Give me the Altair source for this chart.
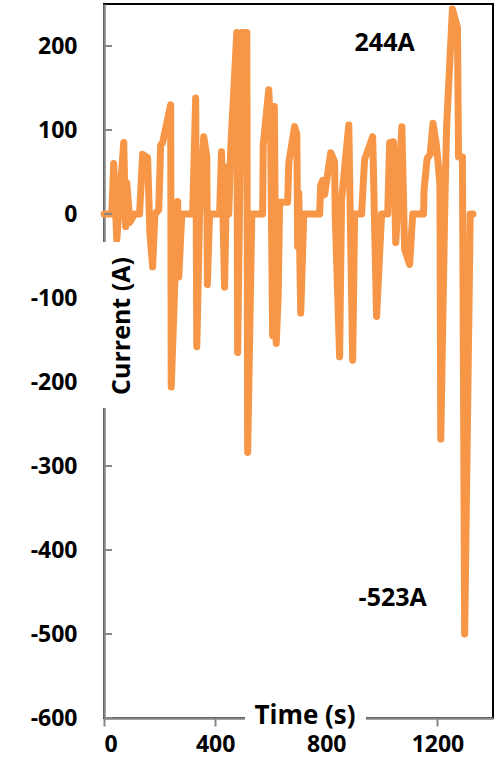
import altair as alt
import pandas as pd

# Time (s) and current (A)
time_s = [0, 28, 35, 46, 71, 78, 82, 93, 110, 128, 139, 157, 165, 175, 183, 197, 204, 211,
          240, 242, 265, 269, 280, 319, 330, 334, 344, 359, 370, 372, 380, 416, 423, 434,
          442, 449, 456, 478, 481, 496, 514, 517, 532, 571, 573, 593, 600, 607, 613, 620,
          627, 632, 661, 665, 686, 694, 697, 701, 708, 719, 776, 780, 787, 794, 816, 830,
          832, 848, 855, 881, 895, 902, 927, 938, 967, 981, 999, 1021, 1028, 1042, 1050,
          1072, 1082, 1100, 1111, 1150, 1152, 1163, 1174, 1184, 1195, 1202, 1209, 1212,
          1226, 1233, 1254, 1272, 1276, 1290, 1298, 1318, 1328]
current_a = [0, 0, 60, -31, 85, -15, 37, -10, 0, 0, 71, 67, -22, -63, 0, 5, 82, 85,
             130, -206, 15, -75, 0, 0, 138, -158, 0, 92, 68, -84, 0, 0, 74, -87,
             56, 0, 77, 216, -165, 216, 216, -284, 0, 0, 82, 148, 89, -145, 128, -154,
             -95, 14, 14, 61, 104, 95, -39, 25, -118, 0, 0, 35, 40, 23, 73, 62,
             0, -170, 17, 106, -174, 0, 0, 65, 92, -122, 0, 0, 85, 86, -34,
             104, -42, -60, 0, 0, 29, 66, 71, 108, 85, 63, 34, -268,
             0, 104, 244, 222, 68, 68, -500, 0, 0]

x_ticks = [0, 400, 800, 1200]
y_ticks = [-600, -500, -400, -300, -200, -100, 0, 100, 200]

ann_text = ["244A", "-523A"]
ann_t = [1010, 1039]
ann_v = [203, -457]

x_title = ["Time (s)"]
y_title = ["Current (A)"]

df = pd.DataFrame({"t": time_s, "v": current_a})
df_ticks = pd.DataFrame({"v": y_ticks})
df_ann = pd.DataFrame({"label": ann_text, "t": ann_t, "v": ann_v})
df_xt = pd.DataFrame({"label": x_title})
df_yt = pd.DataFrame({"label": y_title})

FONT = "Open Sans"
GREY = "#868686"

xscale = alt.Scale(domain=[0, 1400], nice=False, zero=False)
yscale = alt.Scale(domain=[-600, 250], nice=False, zero=False)

line = alt.Chart(df).mark_line(
    color="#F79646", strokeWidth=7, strokeCap="round", strokeJoin="round"
).encode(
    x=alt.X("t:Q", scale=xscale,
            axis=alt.Axis(title="", values=x_ticks, grid=False,
                          labelFont=FONT,
                          labelFontSize=23, labelFontWeight="bold", labelColor="black",
                          labelExpr="datum.value + ''",
                          domainColor=GREY, domainWidth=2.5, tickColor=GREY,
                          tickWidth=2, tickSize=8, labelPadding=7)),
    y=alt.Y("v:Q", scale=yscale,
            axis=alt.Axis(title="", values=y_ticks, grid=False,
                          labelFont=FONT,
                          labelFontSize=23, labelFontWeight="bold", labelColor="black",
                          labelExpr="datum.value + ''",
                          domainColor=GREY, domainWidth=2.5, ticks=False,
                          labelPadding=27)),
)

yticks = alt.Chart(df_ticks).mark_rule(color=GREY, strokeWidth=2).encode(
    y=alt.Y("v:Q", scale=yscale),
    x=alt.value(0),
    x2=alt.value(8),
)

ytitle_box = alt.Chart(df_yt).mark_rect(color="white").encode(
    x=alt.value(-9), x2=alt.value(39), y=alt.value(238), y2=alt.value(404)
)
ytitle = alt.Chart(df_yt).mark_text(
    angle=270, font=FONT, fontSize=25, fontWeight="bold",
    color="black", align="center", baseline="middle"
).encode(x=alt.value(18), y=alt.value(322), text="label:N")

xtitle_box = alt.Chart(df_xt).mark_rect(color="white").encode(
    x=alt.value(141), x2=alt.value(262), y=alt.value(697), y2=alt.value(731)
)
xtitle = alt.Chart(df_xt).mark_text(
    font=FONT, fontSize=26, fontWeight="bold",
    color="black", align="center", baseline="middle"
).encode(x=alt.value(201), y=alt.value(712), text="label:N")

ann = alt.Chart(df_ann).mark_text(
    font=FONT, fontSize=25, fontWeight="bold", color="black",
    align="center", baseline="middle"
).encode(
    x=alt.X("t:Q", scale=xscale),
    y=alt.Y("v:Q", scale=yscale),
    text="label:N",
)

chart = alt.layer(line, yticks, ytitle_box, ytitle, xtitle_box, xtitle, ann).properties(
    width=389, height=714,
    autosize=alt.AutoSizeParams(type="none"),
    padding={"left": 104, "top": 4, "right": 1, "bottom": 45},
    background="white",
).configure_view(stroke="black", strokeWidth=2)

chart.save("out.html", embed_options={"renderer": "svg", "actions": False})
